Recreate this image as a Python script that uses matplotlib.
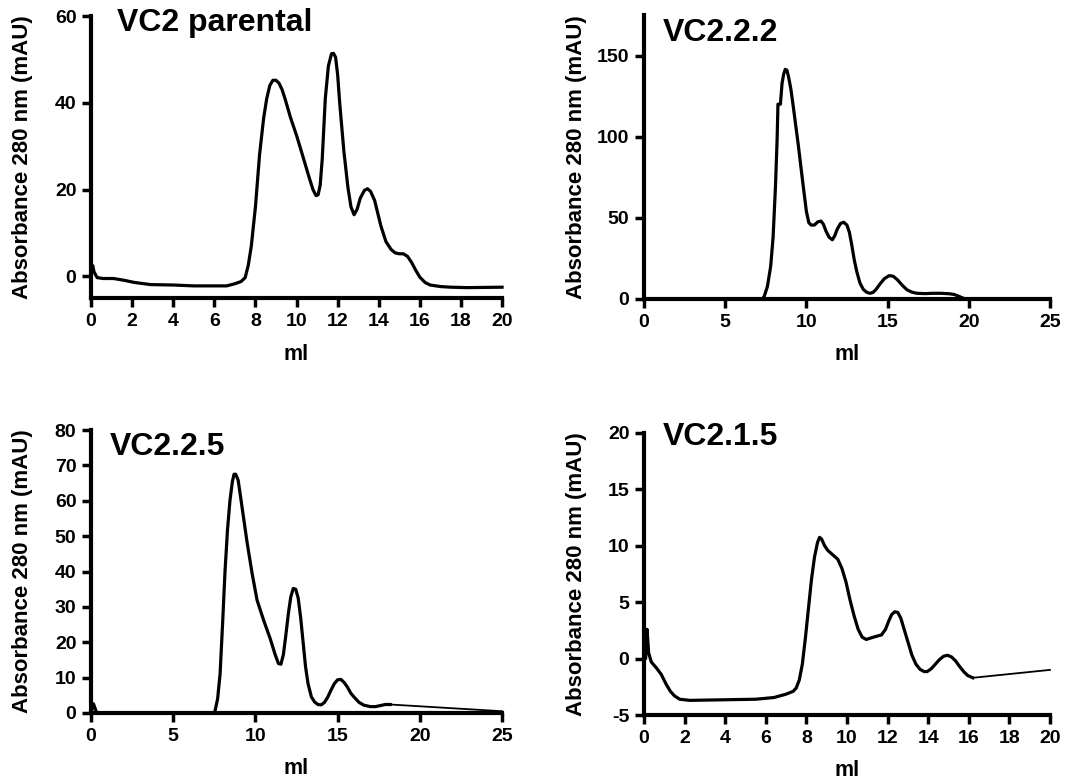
import numpy as np
import matplotlib.pyplot as plt

plt.rcParams['font.family'] = ['Liberation Sans', 'DejaVu Sans']
plt.rcParams['font.weight'] = 'bold'
plt.rcParams['axes.unicode_minus'] = False

# VC2 parental
ml_1 = [0.0, 0.08, 0.15, 0.3, 0.6, 1.1, 1.6, 2.1, 2.9, 4.0, 5.0, 6.6, 7.0, 7.3, 7.5, 7.65,
        7.8, 8.0, 8.2, 8.4, 8.55, 8.7, 8.85, 9.0, 9.15, 9.3, 9.45, 9.7, 10.0, 10.3,
        10.6, 10.8, 10.95, 11.05, 11.15, 11.25, 11.4, 11.55, 11.7, 11.8, 11.9, 12.0, 12.1,
        12.3, 12.5, 12.65, 12.8, 12.95, 13.1, 13.3, 13.45, 13.6, 13.8, 14.1, 14.35, 14.6,
        14.8, 15.0, 15.2, 15.4, 15.6, 15.8, 16.0, 16.25, 16.5, 17.0, 17.5, 18.3, 20.0]
abs_1 = [0.3, 2.5, 1.0, -0.3, -0.5, -0.5, -0.9, -1.4, -1.9, -2.0, -2.2, -2.2, -1.7, -1.2, -0.3, 2.5,
         7, 16, 28, 36.5, 41, 44, 45.2, 45.2, 44.5, 43, 40.8, 36.7, 32.5, 27.8,
         23, 20, 18.6, 18.8, 21, 27, 41, 48.5, 51.3, 51.4, 50.5, 46.5, 40,
         29, 20.5, 16, 14.2, 15.5, 18, 19.8, 20.2, 19.6, 17.5, 11.7, 8, 6.2,
         5.4, 5.2, 5.2, 4.6, 3.2, 1.4, -0.2, -1.4, -2.0, -2.35, -2.5, -2.6, -2.5]

# VC2.2.2
ml_2 = [0.0, 7.3, 7.4, 7.6, 7.8, 7.95, 8.1, 8.2, 8.25, 8.4, 8.5, 8.6, 8.7, 8.8, 8.9, 9.05,
        9.2, 9.5, 9.8, 10.0, 10.15, 10.3, 10.5, 10.7, 10.9, 11.05, 11.2, 11.4, 11.6, 11.75,
        11.9, 12.1, 12.3, 12.5, 12.65, 12.8, 12.95, 13.1, 13.3, 13.5, 13.7, 13.9, 14.1,
        14.3, 14.5, 14.8, 15.1, 15.35, 15.6, 15.9, 16.2, 16.5, 16.8, 17.3, 17.8, 18.3,
        18.8, 19.1, 19.4, 19.7, 20.0]
abs_2 = [0, 0, 1.5, 7.7, 20, 38, 70, 99, 120, 120, 132.7, 138.5, 141.5, 141, 137, 129,
         118, 95, 70, 54, 47, 45.5, 45.6, 47.5, 48, 46, 42, 38, 36.5, 39,
         43, 46.5, 47.3, 45.5, 41, 33, 24, 17, 9.8, 6, 4.2, 3.5, 4,
         6, 8.8, 12.5, 14.4, 14, 11.9, 8.5, 5.6, 4.2, 3.5, 3.3, 3.5, 3.5,
         3.2, 2.8, 1.6, 0.3, 0]

# VC2.2.5
ml_3 = [0.0, 0.15, 0.35, 7.5, 7.55, 7.7, 7.85, 8.0, 8.15, 8.3, 8.45, 8.6, 8.7, 8.8, 8.95,
        9.1, 9.3, 9.5, 9.8, 10.1, 10.5, 10.9, 11.2, 11.4, 11.55, 11.7, 11.85, 12.0, 12.15,
        12.3, 12.45, 12.6, 12.75, 12.9, 13.05, 13.2, 13.4, 13.6, 13.8, 14.0, 14.2, 14.4,
        14.6, 14.8, 15.0, 15.2, 15.4, 15.6, 15.8, 16.0, 16.3, 16.6, 17.0, 17.3, 17.6,
        17.9, 18.2]
abs_3 = [0, 2.6, 0, 0, 0.75, 4, 11, 25, 40, 51.7, 60, 65.5, 67.5, 67.5, 65.8,
         61, 54.5, 48, 39.4, 31.9, 26.2, 21, 16.5, 14, 13.8, 16.5, 22, 28, 32.8,
         35.2, 35, 32.5, 27, 20, 13, 8.3, 4.6, 3.1, 2.4, 2.3, 3, 4.5,
         6.5, 8.3, 9.4, 9.5, 8.6, 7.3, 5.6, 4.5, 3, 2.2, 1.8, 1.8, 2.1,
         2.4, 2.4]
ml_3_tail = [18.2, 25.0]
abs_3_tail = [2.4, 0.5]

# VC2.1.5
ml_4 = [0.0, 0.08, 0.15, 0.23, 0.36, 0.6, 0.85, 1.1, 1.3, 1.5, 1.76, 2.25, 3.9, 5.5, 6.4,
        7.0, 7.35, 7.5, 7.65, 7.8, 7.95, 8.1, 8.25, 8.4, 8.55, 8.65, 8.75, 8.9, 9.05, 9.3,
        9.55, 9.75, 9.95, 10.15, 10.35, 10.55, 10.75, 10.95, 11.3, 11.7, 11.9, 12.05, 12.2,
        12.35, 12.5, 12.65, 12.8, 13.0, 13.2, 13.4, 13.6, 13.8, 13.95, 14.15, 14.35,
        14.55, 14.75, 14.95, 15.15, 15.35, 15.55, 15.75, 15.95, 16.2]
abs_4 = [0.5, 0, 2.6, 0.5, -0.3, -0.8, -1.4, -2.3, -2.9, -3.3, -3.6, -3.7, -3.65, -3.6, -3.45,
         -3.15, -2.9, -2.6, -1.9, -0.5, 1.8, 4.4, 7.0, 9.0, 10.3, 10.75, 10.6, 10.0, 9.6, 9.2,
         8.8, 8.0, 6.8, 5.2, 3.8, 2.6, 1.9, 1.7, 1.9, 2.1, 2.6, 3.3, 3.9,
         4.15, 4.1, 3.6, 2.7, 1.5, 0.3, -0.5, -0.95, -1.15, -1.15, -0.9, -0.5,
         -0.1, 0.2, 0.3, 0.15, -0.2, -0.7, -1.15, -1.5, -1.7]
ml_4_tail = [16.2, 20.0]
abs_4_tail = [-1.7, -1.0]

titles = ['VC2 parental', 'VC2.2.2', 'VC2.2.5', 'VC2.1.5']

fig = plt.figure(figsize=(10.86, 7.8), dpi=100)
ax1 = fig.add_axes([0.0838, 0.6179, 0.3785, 0.3615])
ax2 = fig.add_axes([0.5930, 0.6167, 0.3738, 0.3641])
ax3 = fig.add_axes([0.0838, 0.0859, 0.3785, 0.3628])
ax4 = fig.add_axes([0.5930, 0.0833, 0.3738, 0.3616])


def style(ax, xlim, xticks, ylim, yticks, title, tx, ty):
    ax.set_xlim(xlim)
    ax.set_ylim(ylim)
    ax.set_xticks(xticks)
    ax.set_yticks(yticks)
    for s in ['top', 'right']:
        ax.spines[s].set_visible(False)
    for s in ['left', 'bottom']:
        ax.spines[s].set_linewidth(3)
        ax.spines[s].set_capstyle('projecting')
    ax.tick_params(width=2.5, length=6.5, labelsize=14, direction='out', pad=4)
    for lab in ax.get_xticklabels() + ax.get_yticklabels():
        lab.set_fontweight('bold')
    ax.set_xlabel('ml', fontsize=15.5, fontweight='bold', labelpad=10)
    ax.set_ylabel('Absorbance 280 nm (mAU)', fontsize=16, fontweight='bold')
    ax.yaxis.set_label_coords(-0.14, 0.5)
    ax.text(tx, ty, title, transform=ax.transAxes, fontsize=23, fontweight='bold',
            va='center', ha='left')


ax1.plot(ml_1, abs_1, color='black', lw=2.3, solid_joinstyle='round', clip_on=False)
style(ax1, (0, 20), np.arange(0, 21, 2), (-5, 60), [0, 20, 40, 60], titles[0], 0.063, 0.975)

ax2.plot(ml_2, abs_2, color='black', lw=2.3, solid_joinstyle='round', clip_on=False)
style(ax2, (0, 25), np.arange(0, 26, 5), (0, 175), [0, 50, 100, 150], titles[1], 0.047, 0.937)

ax3.plot(ml_3, abs_3, color='black', lw=2.3, solid_joinstyle='round', clip_on=False)
ax3.plot(ml_3_tail, abs_3_tail, color='black', lw=1.3, clip_on=False)
style(ax3, (0, 25), np.arange(0, 26, 5), (0, 80), np.arange(0, 81, 10), titles[2], 0.046, 0.94)

ax4.plot(ml_4, abs_4, color='black', lw=2.3, solid_joinstyle='round', clip_on=False)
ax4.plot(ml_4_tail, abs_4_tail, color='black', lw=1.3, clip_on=False)
style(ax4, (0, 20), np.arange(0, 21, 2), (-5, 20), [-5, 0, 5, 10, 15, 20], titles[3], 0.047, 0.986)

fig.savefig('out.png', dpi=100)
